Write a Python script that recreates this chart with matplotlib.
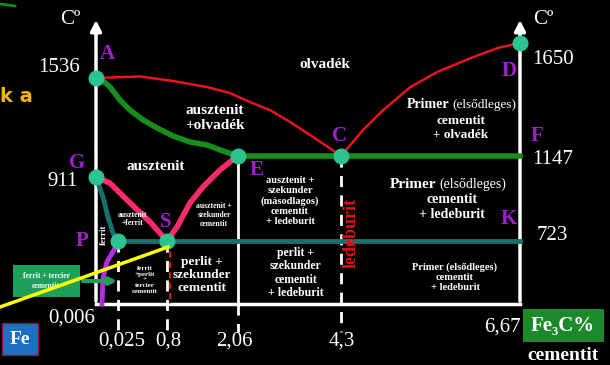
import numpy as np
import matplotlib
matplotlib.use("Agg")
import matplotlib.pyplot as plt
from matplotlib.patches import Rectangle

plt.rcParams['font.family'] = ['Liberation Serif', 'DejaVu Serif']

# Schematic (not to scale) axes: carbon % and temperature knots -> screen pixels
C_KNOTS = [-1.0, 0.0, 0.006, 0.025, 0.8, 2.06, 4.3, 6.67, 7.5]
X_PIX = [0, 96, 102, 118, 167, 238, 341, 520, 610]
T_KNOTS = [-300, 20, 723, 911, 1147, 1536, 1650, 1760]
Y_PIX = [0, 61, 124, 188, 209, 287, 322, 365]

# key points of the diagram
point_names = ['A', 'G', 'P', 'S', 'E', 'C', 'D']
point_c = [0, 0, 0.025, 0.8, 2.06, 4.3, 6.67]
point_t = [1536, 911, 723, 723, 1147, 1147, 1650]

# liquidus A-C-D
liq_ac_c = [0, 0.373, 0.906, 1.510, 1.918, 2.321, 2.756, 3.191, 3.626, 4.016, 4.3]
liq_ac_t = [1536, 1541, 1521, 1491, 1461, 1416, 1376, 1317, 1252, 1192, 1147]
liq_cd_c = [4.3, 4.593, 4.859, 5.219, 5.578, 6.018, 6.377, 6.67]
liq_cd_t = [1147, 1277, 1376, 1491, 1556, 1601, 1634, 1650]
# solidus A-E and eutectic line E-F
sol_ae_c = [0, 0.006, 0.0155, 0.057, 0.215, 0.421, 0.642, 0.906, 1.208, 1.510, 1.794, 2.06]
sol_ae_t = [1536, 1526, 1491, 1426, 1376, 1327, 1287, 1247, 1217, 1202, 1172, 1147]
ecf_c = [2.06, 6.67]
ecf_t = [1147, 1147]
# G-S and S-E
gs_c = [0, 0.0155, 0.215, 0.531, 0.8]
gs_t = [911, 893, 835, 779, 723]
se_c = [0.8, 0.977, 1.208, 1.439, 1.741, 1.918, 2.06]
se_t = [723, 764, 835, 882, 990, 1080, 1147]
# G-P and eutectoid line P-S-K
gp_c = [0, 0.0072, 0.0131, 0.0191, 0.025]
gp_t = [911, 852, 793, 746, 723]
psk_c = [0.025, 6.67]
psk_t = [723, 723]
# P-Q solubility of carbon in ferrit
pq_c = [0.025, 0.0214, 0.0119, 0.0072, 0.006]
pq_t = [723, 645, 489, 310, 20]

room_t = 20
bottom_t = -125
top_t = 1716

fig = plt.figure(figsize=(6.1, 3.65), dpi=100)
fig.patch.set_facecolor('black')
ax = fig.add_axes([0, 0, 1, 1])
ax.set_facecolor('black')
ax.set_xscale('function', functions=(lambda c: np.interp(c, C_KNOTS, X_PIX),
                                     lambda p: np.interp(p, X_PIX, C_KNOTS)))
ax.set_yscale('function', functions=(lambda t: np.interp(t, T_KNOTS, Y_PIX),
                                     lambda p: np.interp(p, Y_PIX, T_KNOTS)))
ax.set_xlim(C_KNOTS[0], C_KNOTS[-1])
ax.set_ylim(T_KNOTS[0], T_KNOTS[-1])
ax.axis('off')


def px(x, y):
    # reference pixel position -> axes fraction
    return (x / 610, 1 - y / 365)


# axes frame
ax.plot([0, 6.67], [room_t, room_t], color='white', lw=2.5, zorder=2)
for xc in [0, 6.67]:
    ax.annotate('', xy=(xc, top_t), xytext=(xc, room_t),
                arrowprops=dict(arrowstyle='-|>', color='white', lw=2.5,
                                mutation_scale=16), zorder=2)

# vertical guide lines
ax.plot([0.025, 0.025], [723, bottom_t], color='white', lw=2, dashes=(4, 3), zorder=2)
ax.plot([0.8, 0.8], [723, bottom_t], color='white', lw=2, dashes=(4, 3), zorder=2)
ax.plot([0.853, 0.853], [723, room_t], color='#d01818', lw=1.5, dashes=(3, 2), zorder=2)
ax.plot([2.06, 2.06], [1147, room_t], color='white', lw=2, zorder=2)
ax.plot([2.06, 2.06], [room_t, bottom_t], color='white', lw=2, dashes=(4, 3), zorder=2)
ax.plot([4.3, 4.3], [1147, bottom_t], color='white', lw=2, dashes=(4, 3), zorder=2)

# phase lines
ax.plot(psk_c, psk_t, color='#16706c', lw=3.5, zorder=3)
ax.plot(gp_c, gp_t, color='#16706c', lw=3.5, zorder=3)
ax.plot(pq_c, pq_t, color='#b52ce0', lw=3.5, zorder=3)
ax.plot(gs_c, gs_t, color='#ff2a6d', lw=4, zorder=3, solid_joinstyle='round')
ax.plot(se_c, se_t, color='#ff2a6d', lw=4, zorder=3, solid_joinstyle='round')
ax.plot(ecf_c, ecf_t, color='#188c1c', lw=4, zorder=3)
ax.plot(sol_ae_c, sol_ae_t, color='#188c1c', lw=4, zorder=3, solid_joinstyle='round')
ax.plot(liq_ac_c, liq_ac_t, color='#e8141e', lw=1.8, zorder=3)
ax.plot(liq_cd_c, liq_cd_t, color='#e8141e', lw=1.8, zorder=3)
ax.plot(point_c, point_t, 'o', color='#2cc48e', ms=10.5, zorder=5)

# point letters
letter_pos = {'A': (107, 54), 'G': (77, 163), 'P': (82, 241), 'S': (166, 222),
              'E': (257, 170), 'C': (340, 136), 'D': (509, 71), 'F': (537, 136),
              'K': (509, 219)}
for name, (x, y) in letter_pos.items():
    ax.text(*px(x, y), name, transform=ax.transAxes, color='#a21fd0',
            fontsize=15, fontweight='bold', ha='center', va='center', zorder=6)

# temperature and carbon labels
temp_labels = [('Cº', 70, 20), ('1536', 59, 68), ('911', 63, 181), ('Cº', 543, 20),
               ('1650', 553, 59), ('1147', 553, 160), ('723', 552, 235)]
for s, x, y in temp_labels:
    ax.text(*px(x, y), s, transform=ax.transAxes, color='white', fontsize=15,
            ha='center', va='center')
carbon_labels = [('0,006', 72, 318), ('0,025', 122, 341), ('0,8', 168, 341),
                 ('2,06', 234, 341), ('4,3', 342, 341), ('6,67', 502, 327)]
for s, x, y in carbon_labels:
    ax.text(*px(x, y), s, transform=ax.transAxes, color='white', fontsize=15,
            ha='center', va='center')

# region texts
region_texts = [
    ('olvadék', 325, 65, 11),
    ('ausztenit\n+olvadék', 215, 118, 11),
    ('ausztenit', 156, 166, 11),
    ('ausztenit\n+ferrit', 132, 219, 5.5),
    ('ausztenit +\nszekunder\ncementit', 214, 215, 5.5),
    ('ferrit\n+perlit\n+\ntercier\ncementit', 145, 280, 5),
    ('perlit +\nszekunder\ncementit', 202, 275, 9.5),
    ('ausztenit +\nszekunder\n(másodlagos)\ncementit\n+ ledeburit', 290, 201, 7.5),
    ('perlit +\nszekunder\ncementit\n+ ledeburit', 296, 273, 8.5),
    ('cementit\n+ olvadék', 461, 128, 9.5),
    ('cementit\n+ ledeburit', 452, 207, 10),
    ('Primer (elsődleges)\ncementit\n+ ledeburit', 455, 277, 7.5),
]
for s, x, y, fs in region_texts:
    ax.text(*px(x, y), s, transform=ax.transAxes, color='white', fontsize=fs,
            fontweight='bold', ha='center', va='center', linespacing=1.15, zorder=4)

# "Primer (elsődleges)" headers with mixed weight
ax.text(*px(449, 105), 'Primer', transform=ax.transAxes, color='white', fontsize=10,
        fontweight='bold', ha='right', va='center')
ax.text(*px(452, 105), '(elsődleges)', transform=ax.transAxes, color='white',
        fontsize=9.5, ha='left', va='center')
ax.text(*px(436, 184), 'Primer', transform=ax.transAxes, color='white', fontsize=11,
        fontweight='bold', ha='right', va='center')
ax.text(*px(439, 184), '(elsődleges)', transform=ax.transAxes, color='white',
        fontsize=10, ha='left', va='center')

ax.text(*px(104, 235), 'ferrit', transform=ax.transAxes, color='white', fontsize=6.5,
        fontweight='bold', rotation=90, ha='center', va='center', zorder=4)
ax.text(*px(351, 233), 'ledeburit', transform=ax.transAxes, color='#e01010',
        fontsize=13, fontweight='bold', rotation=90, ha='center', va='center', zorder=4)

# side boxes
ax.add_patch(Rectangle(px(13, 297), 67 / 610, 32 / 365, transform=ax.transAxes,
                       facecolor='#1ea05a', edgecolor='none', zorder=6))
ax.text(*px(46, 281), 'ferrit + tercier\ncementit', transform=ax.transAxes,
        color='white', fontsize=5.5, fontweight='bold', ha='center', va='center',
        zorder=7)
ax.annotate('', xy=px(120, 281), xytext=px(80, 281), xycoords='axes fraction',
            arrowprops=dict(arrowstyle='-|>', color='#1ea05a', lw=3,
                            mutation_scale=10), zorder=6)
ax.plot([0, 168 / 610], [1 - 307 / 365, 1 - 247 / 365], color='#ffff00', lw=2.5,
        transform=ax.transAxes, zorder=8)

ax.add_patch(Rectangle(px(2, 355), 36 / 610, 32 / 365, transform=ax.transAxes,
                       facecolor='#1f6fc0', edgecolor='#8a1a3a', lw=1, zorder=6))
ax.text(*px(20, 339), 'Fe', transform=ax.transAxes, color='white', fontsize=14,
        fontweight='bold', ha='center', va='center', zorder=7)

ax.add_patch(Rectangle(px(523, 342), 81 / 610, 33 / 365, transform=ax.transAxes,
                       facecolor='#1c8a2a', edgecolor='none', zorder=6))
ax.text(*px(563, 326), 'Fe₃C%', transform=ax.transAxes, color='white', fontsize=15,
        fontweight='bold', ha='center', va='center', zorder=7)
ax.text(*px(563, 356), 'cementit', transform=ax.transAxes, color='white', fontsize=14,
        fontweight='bold', ha='center', va='center')

ax.text(*px(0, 96), 'k a', transform=ax.transAxes, color='#f2b400', fontsize=14,
        fontweight='bold', family='DejaVu Sans', ha='left', va='center')
ax.plot([0, 15 / 610], [1 - 4 / 365, 1 - 6 / 365], color='#188c1c', lw=2,
        transform=ax.transAxes)

fig.savefig('out.png', dpi=100, facecolor='black')
